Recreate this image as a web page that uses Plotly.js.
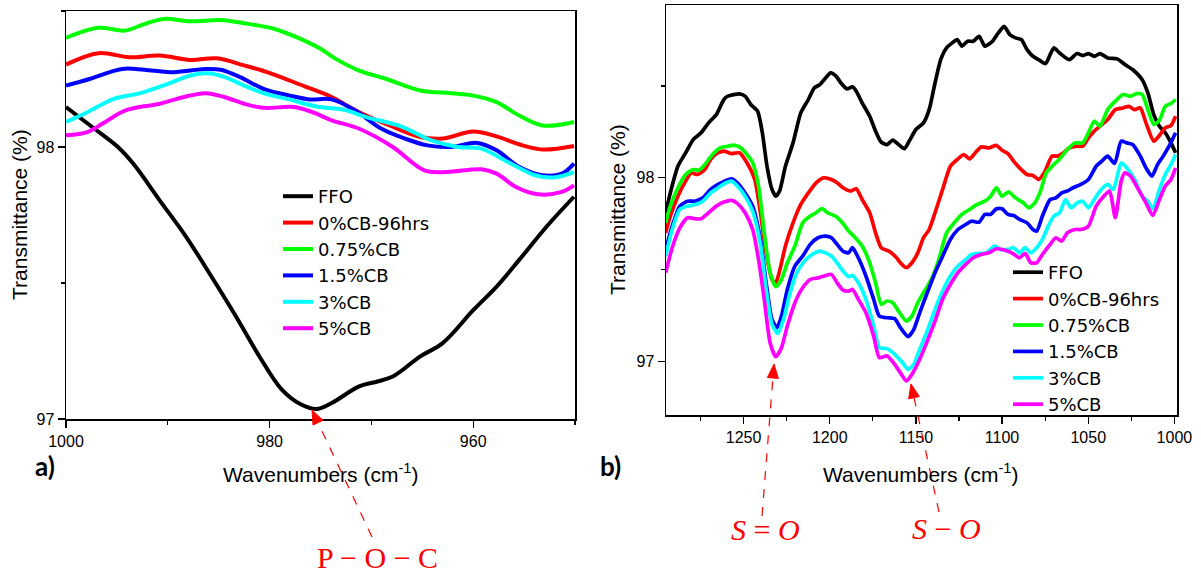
<!DOCTYPE html>
<html>
<head>
<meta charset="utf-8">
<script src="https://cdn.plot.ly/plotly-3.0.1.min.js"></script>
<style>html,body{margin:0;padding:0;background:#fff;}#chart{width:1201px;height:575px;}</style>
</head>
<body>
<div id="chart"></div>
<script>
// ---------- names ----------
const seriesNames = ["FFO", "0%CB-96hrs", "0.75%CB", "1.5%CB", "3%CB", "5%CB"];
const seriesColors = ["#000000", "#ff0000", "#00ff00", "#0000ff", "#00ffff", "#ff00ff"];

// ---------- panel a (1000-950 cm-1) ----------
const a_ffo_x = [1000,997.2,994.9,993.4,990.8,988.2,985.9,983.3,981.0,978.8,976.9,975.4,973.9,971.2,969.4,967.9,965.2,963.0,960.0,957.7,955.5,952.8,950.1];
const a_ffo_y = [98.147,98.067,98.0,97.939,97.804,97.670,97.535,97.377,97.230,97.108,97.053,97.037,97.059,97.12,97.138,97.156,97.23,97.279,97.40,97.487,97.584,97.707,97.817];
const a_cb0_x = [1000,996.8,993.8,990.8,987.8,985.2,982.5,979.9,976.5,974.2,971.2,968.2,965.2,963.0,960.0,957.7,955.5,953.2,950.1];
const a_cb0_y = [98.303,98.345,98.33,98.336,98.320,98.326,98.300,98.271,98.222,98.189,98.128,98.079,98.037,98.031,98.057,98.039,98.010,97.991,98.004];
const a_cb075_x = [1000,996.8,994.2,992.3,990.4,987.8,984.8,982.5,979.5,977.3,975.0,973.5,971.2,968.6,965.2,962.2,960.0,957.7,955.5,953.2,950.1];
const a_cb075_y = [98.401,98.438,98.428,98.452,98.471,98.462,98.467,98.455,98.434,98.403,98.361,98.324,98.281,98.251,98.208,98.198,98.189,98.165,98.116,98.079,98.092];
const a_cb15_x = [1000,997.6,994.5,992.3,989.7,986.3,984.8,982.9,980.6,978.0,976.1,973.9,971.6,969.0,966.7,964.5,962.2,959.6,957.7,955.5,953.2,951.3,950.1];
const a_cb15_y = [98.226,98.251,98.287,98.284,98.275,98.287,98.284,98.257,98.214,98.189,98.175,98.175,98.134,98.067,98.031,98.006,98.0,98.015,97.988,97.927,97.896,97.902,97.939];
const a_cb3_x = [1000,997.9,995.3,992.7,990.0,987.8,986.1,984.4,982.5,980.6,978.0,975.4,972.7,970.5,967.1,964.1,961.5,959.2,956.6,953.9,952.1,950.1];
const a_cb3_y = [98.092,98.128,98.177,98.198,98.232,98.263,98.271,98.257,98.226,98.198,98.174,98.149,98.137,98.11,98.076,98.024,98.0,97.994,97.945,97.896,97.888,97.908];
const a_cb5_x = [1000,997.9,996.4,994.2,990.8,988.5,986.3,984.4,982.5,980.6,977.6,975.8,973.9,971.2,967.9,964.8,962.6,959.2,957.7,955.8,953.6,951.3,950.1];
const a_cb5_y = [98.043,98.055,98.086,98.134,98.159,98.183,98.198,98.183,98.159,98.144,98.147,98.128,98.098,98.067,98.0,97.914,97.908,97.918,97.902,97.853,97.826,97.835,97.859];

// ---------- panel b (1295-1000 cm-1) ----------
const b_ffo_x = [1295.2,1292.5,1288.1,1283.6,1279.2,1274.7,1270.3,1265.8,1261.4,1259.1,1252.4,1249.1,1245.8,1241.8,1239.1,1236.4,1233.5,1231.3,1229.1,1225.7,1221.3,1216.8,1212.4,1209.0,1205.7,1202.4,1199.5,1196.3,1193.5,1190.1,1186.8,1184.6,1181.2,1176.8,1173.4,1170.1,1166.7,1163.4,1160.1,1156.7,1153.4,1150.0,1145.6,1142.3,1138.9,1135.6,1132.2,1128.9,1126.0,1123.3,1120.0,1116.7,1113.3,1110.0,1105.5,1102.2,1098.8,1095.5,1092.2,1088.8,1085.5,1082.1,1078.8,1074.8,1072.1,1069.9,1066.6,1061.0,1056.5,1053.2,1049.9,1046.5,1043.2,1038.7,1033.2,1028.7,1024.3,1018.7,1015.4,1012.0,1008.7,1005.3,1002.0,999.3];
const b_ffo_y = [97.81,97.918,98.063,98.136,98.208,98.245,98.299,98.344,98.426,98.444,98.457,98.444,98.399,98.362,98.245,98.063,97.937,97.900,97.928,98.063,98.190,98.353,98.426,98.489,98.507,98.543,98.571,98.553,98.516,98.484,98.495,98.471,98.408,98.335,98.254,98.194,98.181,98.205,98.181,98.158,98.208,98.263,98.299,98.371,98.516,98.643,98.707,98.734,98.752,98.716,98.743,98.743,98.770,98.716,98.743,98.788,98.824,98.779,98.761,98.752,98.697,98.661,98.643,98.621,98.670,98.707,98.679,98.643,98.676,98.665,98.676,98.661,98.676,98.652,98.647,98.616,98.589,98.534,98.462,98.344,98.281,98.245,98.190,98.136];
const b_cb0_x = [1295.2,1292.5,1288.1,1283.6,1280.3,1276.9,1272.5,1269.1,1265.8,1261.4,1256.9,1252.4,1248.0,1243.5,1240.2,1236.9,1233.5,1231.3,1229.1,1225.7,1221.3,1216.8,1212.4,1207.9,1203.5,1199.0,1195.7,1192.3,1187.9,1184.6,1181.2,1176.8,1173.4,1170.1,1165.6,1161.2,1159.0,1155.6,1152.3,1148.9,1145.6,1142.3,1138.9,1134.5,1130.0,1125.6,1122.2,1118.9,1115.5,1112.2,1107.7,1103.3,1100.0,1096.6,1093.3,1089.9,1085.5,1082.1,1078.8,1075.5,1071.0,1067.7,1064.3,1061.0,1056.5,1053.2,1049.9,1046.5,1043.2,1038.7,1034.3,1029.8,1026.5,1023.1,1019.8,1016.5,1012.0,1008.7,1005.3,1002.0,999.3];
const b_cb0_y = [97.701,97.792,97.900,97.982,98.027,98.018,98.045,98.1,98.132,98.145,98.132,98.136,98.082,97.991,97.810,97.592,97.447,97.429,97.493,97.629,97.755,97.855,97.918,97.973,98.0,97.991,97.973,97.946,97.928,97.940,97.882,97.810,97.701,97.620,97.601,97.565,97.538,97.511,97.538,97.592,97.674,97.719,97.810,97.937,98.063,98.103,98.127,98.103,98.136,98.168,98.163,98.176,98.150,98.132,98.091,98.054,98.018,98.013,97.991,98.027,98.118,98.118,98.136,98.163,98.172,98.172,98.217,98.254,98.281,98.317,98.371,98.380,98.389,98.371,98.380,98.299,98.199,98.230,98.272,98.284,98.335];
const b_cb075_x = [1295.2,1292.5,1288.1,1283.6,1279.2,1275.8,1272.5,1268.0,1263.6,1259.1,1255.8,1252.4,1248.0,1244.7,1241.3,1238.0,1234.6,1231.3,1228.0,1224.6,1220.2,1215.7,1211.3,1207.9,1204.6,1201.2,1196.8,1192.3,1189.0,1185.7,1181.2,1176.8,1173.4,1170.1,1166.7,1163.4,1160.1,1155.6,1152.3,1148.9,1145.6,1141.1,1136.7,1132.2,1127.8,1123.3,1118.9,1114.4,1110.0,1106.6,1103.3,1100.0,1096.2,1092.2,1087.7,1084.4,1081.0,1077.7,1074.4,1071.0,1066.6,1062.1,1057.7,1053.2,1049.9,1046.5,1043.2,1038.7,1034.3,1029.8,1025.4,1022.0,1018.7,1015.4,1012.0,1008.7,1005.3,1002.0,999.3];
const b_cb075_y = [97.755,97.846,97.946,98.018,98.045,98.042,98.072,98.127,98.163,98.172,98.178,98.168,98.127,98.082,97.955,97.701,97.484,97.408,97.447,97.538,97.629,97.755,97.792,97.810,97.832,97.810,97.792,97.752,97.710,97.679,97.629,97.538,97.429,97.312,97.330,97.321,97.275,97.221,97.248,97.321,97.375,97.447,97.556,97.701,97.755,97.801,97.828,97.855,97.873,97.900,97.946,97.900,97.924,97.891,97.864,97.837,97.864,97.928,98.027,98.063,98.103,98.154,98.190,98.190,98.245,98.308,98.281,98.371,98.417,98.453,98.444,98.458,98.453,98.371,98.290,98.313,98.389,98.404,98.426];
const b_cb15_x = [1295.2,1291.4,1287.0,1282.5,1278.0,1273.6,1269.1,1264.7,1260.2,1256.9,1253.6,1249.1,1244.7,1240.2,1236.9,1233.5,1230.6,1228.0,1224.6,1220.2,1215.7,1211.3,1206.8,1202.4,1199.0,1195.7,1192.3,1189.0,1186.8,1183.4,1179.0,1174.5,1171.2,1166.7,1162.3,1159.0,1154.5,1151.2,1147.8,1143.4,1138.9,1134.5,1130.0,1125.6,1121.1,1117.8,1113.3,1110.0,1106.6,1103.3,1100.0,1096.6,1093.3,1089.9,1085.5,1082.1,1079.9,1076.6,1072.1,1068.8,1065.4,1062.1,1058.8,1054.3,1049.9,1045.4,1042.1,1038.7,1034.7,1030.9,1027.6,1024.3,1019.8,1016.5,1013.1,1009.8,1006.5,1003.1,999.3];
const b_cb15_y = [97.611,97.737,97.846,97.873,97.873,97.891,97.937,97.964,97.986,97.995,97.973,97.918,97.846,97.665,97.429,97.230,97.185,97.248,97.393,97.520,97.574,97.638,97.674,97.683,97.674,97.638,97.601,97.592,97.620,97.565,97.466,97.339,97.248,97.239,97.234,97.185,97.136,97.176,97.266,97.375,97.484,97.574,97.665,97.719,97.746,97.764,97.759,97.801,97.801,97.832,97.832,97.801,97.795,97.774,97.755,97.719,97.710,97.792,97.882,97.891,97.918,97.928,97.946,97.964,97.991,98.063,98.091,98.118,98.078,98.199,98.190,98.181,98.118,98.054,98.009,98.072,98.118,98.172,98.245];
const b_cb3_x = [1295.2,1291.4,1287.0,1282.5,1278.0,1273.6,1269.1,1264.7,1260.2,1256.9,1253.6,1249.1,1244.7,1240.2,1236.9,1233.5,1230.2,1226.8,1223.5,1219.1,1214.6,1210.2,1205.7,1202.4,1199.0,1195.7,1192.3,1189.0,1186.8,1183.4,1179.0,1174.5,1171.2,1166.7,1162.3,1157.8,1154.5,1151.2,1147.8,1143.4,1138.9,1134.5,1130.0,1125.6,1121.1,1117.8,1113.3,1108.9,1104.4,1101.1,1096.6,1093.3,1089.9,1086.6,1083.3,1079.9,1076.6,1073.2,1069.9,1066.6,1063.2,1059.9,1056.5,1053.2,1049.9,1046.5,1043.2,1038.7,1035.4,1030.9,1027.6,1023.1,1018.7,1015.4,1012.5,1008.7,1005.3,1002.0,999.3];
const b_cb3_y = [97.574,97.719,97.828,97.846,97.855,97.873,97.918,97.946,97.973,97.982,97.955,97.900,97.819,97.638,97.393,97.203,97.154,97.230,97.357,97.484,97.547,97.583,97.601,97.592,97.574,97.538,97.493,97.462,97.469,97.429,97.339,97.194,97.076,97.071,97.040,96.995,96.958,96.986,97.067,97.167,97.284,97.384,97.466,97.520,97.556,97.583,97.589,97.592,97.629,97.611,97.611,97.620,97.592,97.620,97.592,97.620,97.665,97.737,97.792,97.810,97.882,97.837,97.864,97.873,97.837,97.882,97.928,97.964,97.937,98.082,98.054,97.991,97.900,97.873,97.832,97.937,98.018,98.072,98.127];
const b_cb5_x = [1295.2,1291.4,1287.0,1282.5,1278.0,1274.7,1270.3,1265.8,1261.4,1256.9,1253.6,1249.1,1244.7,1241.3,1238.0,1234.6,1231.3,1228.0,1224.6,1220.2,1215.7,1211.3,1206.8,1202.4,1199.0,1195.7,1192.3,1189.0,1186.8,1183.4,1179.0,1174.5,1171.2,1166.7,1162.3,1157.8,1155.6,1152.3,1147.8,1143.4,1138.9,1134.5,1130.0,1125.6,1121.1,1116.7,1112.2,1107.7,1103.3,1098.8,1094.4,1089.9,1086.6,1083.3,1079.9,1076.6,1072.1,1068.8,1065.4,1062.1,1057.7,1054.3,1049.9,1045.4,1041.0,1037.6,1034.3,1030.9,1028.7,1025.4,1020.9,1016.5,1012.5,1008.7,1005.3,1002.0,999.3];
const b_cb5_y = [97.484,97.620,97.728,97.783,97.777,97.777,97.810,97.846,97.868,97.877,97.861,97.810,97.719,97.556,97.339,97.103,97.027,97.076,97.194,97.321,97.402,97.447,97.456,97.469,97.475,97.429,97.389,97.384,97.393,97.339,97.266,97.139,97.022,97.031,96.986,96.922,96.895,96.931,97.013,97.112,97.221,97.339,97.420,97.484,97.529,97.565,97.583,97.592,97.614,97.607,97.592,97.565,97.589,97.538,97.538,97.583,97.638,97.674,97.656,97.701,97.719,97.719,97.737,97.846,97.900,97.928,97.783,97.982,98.027,98.009,97.937,97.864,97.795,97.882,97.955,97.991,98.054];

// ---------- labels ----------
const yTitle = "Transmittance (%)";
const xTitle = "Wavenumbers (cm<sup>-1</sup>)";
const panelLabels = ["a)", "b)"];
const bandLabels = ["P − O − C", "<i>S</i> = <i>O</i>", "<i>S</i> − <i>O</i>"];

const panelA = [[a_ffo_x,a_ffo_y],[a_cb0_x,a_cb0_y],[a_cb075_x,a_cb075_y],[a_cb15_x,a_cb15_y],[a_cb3_x,a_cb3_y],[a_cb5_x,a_cb5_y]];
const panelB = [[b_ffo_x,b_ffo_y],[b_cb0_x,b_cb0_y],[b_cb075_x,b_cb075_y],[b_cb15_x,b_cb15_y],[b_cb3_x,b_cb3_y],[b_cb5_x,b_cb5_y]];

const FONT = "Liberation Sans, Arial, sans-serif";
const W = 1201, H = 575;
const px = v => v / W;
const py = v => 1 - v / H;

const traces = [];
panelA.forEach((d, i) => traces.push({
  x: d[0], y: d[1], type: "scatter", mode: "lines", name: seriesNames[i],
  xaxis: "x", yaxis: "y", legend: "legend",
  line: {color: seriesColors[i], width: 4, shape: "spline", smoothing: 1}
}));
panelB.forEach((d, i) => traces.push({
  x: d[0], y: d[1], type: "scatter", mode: "lines", name: seriesNames[i],
  xaxis: "x2", yaxis: "y2", legend: "legend2",
  line: {color: seriesColors[i], width: 3.7, shape: "spline", smoothing: 0.6}
}));

const axBase = {
  showgrid: false, zeroline: false, showline: true, linecolor: "#000", linewidth: 1.5,
  mirror: true, ticks: "outside", ticklen: 7, tickwidth: 1.3, tickcolor: "#000",
  tickfont: {family: FONT, size: 16, color: "#000"}
};

const legendBase = {
  xanchor: "left", yanchor: "top", bgcolor: "rgba(0,0,0,0)", borderwidth: 0,
  font: {family: "DejaVu Sans, sans-serif", size: 18, color: "#000"}, tracegroupgap: 0, itemwidth: 30
};

const redLine = {type: "line", xref: "paper", yref: "paper", line: {color: "#ff0000", width: 1.2, dash: "dash"}};
const arrows = [
  {tip: [312, 410], tail: [372, 537]},
  {tip: [774, 364], tail: [762, 516]},
  {tip: [911, 384], tail: [939, 512]}
];
const shapes = [];
arrows.forEach(a => {
  const dx = a.tail[0] - a.tip[0], dy = a.tail[1] - a.tip[1];
  const L = Math.hypot(dx, dy), ux = dx / L, uy = dy / L;
  const hl = 14, hw = 5.5;
  const bx = a.tip[0] + ux * hl, by = a.tip[1] + uy * hl;
  shapes.push(Object.assign({}, redLine, {x0: px(a.tail[0]), y0: py(a.tail[1]), x1: px(bx), y1: py(by)}));
  const p1 = [bx - uy * hw, by + ux * hw], p2 = [bx + uy * hw, by - ux * hw];
  shapes.push({type: "path", xref: "paper", yref: "paper", fillcolor: "#ff0000", line: {color: "#ff0000", width: 1},
    path: `M${px(a.tip[0])},${py(a.tip[1])} L${px(p1[0])},${py(p1[1])} L${px(p2[0])},${py(p2[1])} Z`});
});

const textAnns = [
  {x: px(19), y: py(215), text: yTitle, textangle: -90, font: {family: FONT, size: 21, color: "#000"}},
  {x: px(617), y: py(210), text: yTitle, textangle: -90, font: {family: FONT, size: 21, color: "#000"}},
  {x: px(321), y: py(473), text: xTitle, font: {family: FONT, size: 21, color: "#000"}},
  {x: px(921), y: py(473), text: xTitle, font: {family: FONT, size: 21, color: "#000"}},
  {x: px(45), y: py(466), text: "<b>" + panelLabels[0] + "</b>", font: {family: "Lato, sans-serif", size: 26, color: "#000"}},
  {x: px(610), y: py(466), text: "<b>" + panelLabels[1] + "</b>", font: {family: "Lato, sans-serif", size: 26, color: "#000"}},
  {x: px(377), y: py(557), text: bandLabels[0], font: {family: "Liberation Serif, serif", size: 30, color: "#ff0000"}},
  {x: px(765), y: py(529), text: bandLabels[1], font: {family: "Liberation Serif, serif", size: 30, color: "#ff0000"}},
  {x: px(946), y: py(528), text: bandLabels[2], font: {family: "Liberation Serif, serif", size: 30, color: "#ff0000"}}
].map(a => Object.assign({xref: "paper", yref: "paper", showarrow: false, xanchor: "center", yanchor: "middle"}, a));

const layout = {
  width: W, height: H, margin: {l: 0, r: 0, t: 0, b: 0},
  paper_bgcolor: "#fff", plot_bgcolor: "#fff",
  xaxis: Object.assign({}, axBase, {domain: [px(66), px(575)], range: [1000, 950], anchor: "y",
    tick0: 0, dtick: 20, minor: {ticks: "outside", ticklen: 4, tickwidth: 1.2, tickcolor: "#000", dtick: 10, tick0: 0}}),
  yaxis: Object.assign({}, axBase, {domain: [py(419), py(11)], range: [97, 98.5], anchor: "x",
    tick0: 0, dtick: 1, minor: {ticks: "outside", ticklen: 4, tickwidth: 1.2, tickcolor: "#000", dtick: 0.5, tick0: 0}}),
  xaxis2: Object.assign({}, axBase, {domain: [px(666), px(1177)], range: [1295, 998.5], anchor: "y2",
    tick0: 0, dtick: 50, minor: {ticks: "outside", ticklen: 4, tickwidth: 1.2, tickcolor: "#000", dtick: 25, tick0: 0}}),
  yaxis2: Object.assign({}, axBase, {domain: [py(415), py(5)], range: [96.71, 98.94], anchor: "x2",
    tick0: 0, dtick: 1, minor: {ticks: "outside", ticklen: 4, tickwidth: 1.2, tickcolor: "#000", dtick: 0.5, tick0: 0}}),
  legend: Object.assign({}, legendBase, {x: px(278), y: py(178)}),
  legend2: Object.assign({}, legendBase, {x: px(1008), y: py(254)}),
  showlegend: true,
  shapes: shapes,
  annotations: textAnns
};

Plotly.newPlot("chart", traces, layout, {displayModeBar: false, staticPlot: true});
</script>
</body>
</html>
